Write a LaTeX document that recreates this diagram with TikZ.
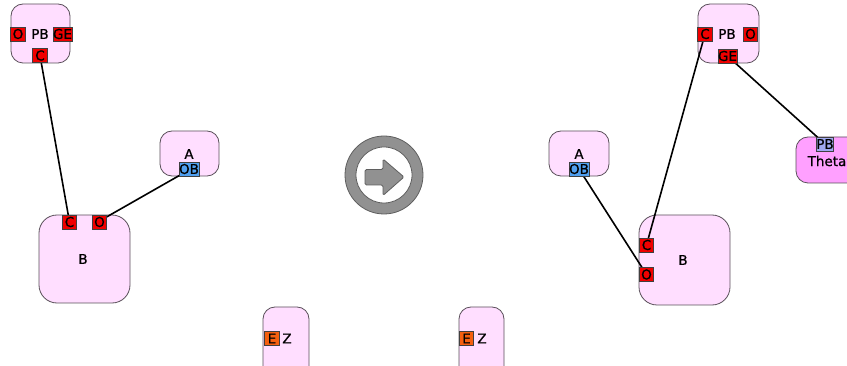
\documentclass[tikz,border=0pt]{standalone}
\usepackage{fontspec}
\setmainfont{DejaVu Sans}
\newfontfamily\diafont{DejaVu Sans}[FakeBold=0.8]
\definecolor{boxfill}{RGB}{255,222,255}
\definecolor{boxline}{RGB}{90,80,90}
\definecolor{thetafill}{RGB}{255,160,255}
\definecolor{portred}{RGB}{240,0,0}
\definecolor{portblue}{RGB}{80,160,240}
\definecolor{portorange}{RGB}{245,95,15}
\definecolor{portlav}{RGB}{160,168,240}
\definecolor{ringgray}{RGB}{145,145,145}
\definecolor{ringedge}{RGB}{95,95,95}
\begin{document}
\begin{tikzpicture}[x=1pt,y=-1pt,
  comp/.style={draw=boxline, line width=0.8pt, fill=boxfill, inner sep=0pt, rounded corners=12pt},
  port/.style={draw=black!75, line width=0.6pt, inner sep=0pt, minimum width=14.5pt, minimum height=14pt, font=\diafont\fontsize{13.5}{15}\selectfont},
  lbl/.style={inner sep=0pt, font=\diafont\fontsize{13.5}{15}\selectfont},
  wire/.style={draw=black, line width=1.6pt}]
\useasboundingbox (0,0) rectangle (847,366);
\fill[white] (0,0) rectangle (847,366);
% ---------- left side ----------
\node[comp, minimum width=59pt, minimum height=59pt] (pbL) at (40.5,33.5) {};
\node[comp, minimum width=59pt, minimum height=45pt] (aL) at (189.5,153.5) {};
\node[comp, minimum width=91pt, minimum height=88pt, rounded corners=18pt] (bL) at (84.5,259) {};
\node[comp, minimum width=46pt, minimum height=80pt] (zL) at (286,347) {};
\node[lbl] (pbLt) at (40,34) {PB};
\node[lbl] (aLt) at (189,154) {A};
\node[lbl] (bLt) at (83,259) {B};
\node[lbl] (zLt) at (287,338.5) {Z};
\coordinate (pbLCc) at (40,55.5);
\coordinate (bLCc) at (69.5,222);
\coordinate (bLOc) at (99.5,221);
\coordinate (aLOBc) at (189,170);
\draw[wire] (pbLCc) -- (bLCc);
\draw[wire] (bLOc) -- (aLOBc);
\node[port, fill=portred] (pbLO) at (18,34) {O};
\node[port, fill=portred] (pbLGE) at (62.5,34) {GE};
\node[port, fill=portred] (pbLC) at (40,55.5) {C};
\node[port, fill=portred] (bLC) at (69.5,222) {C};
\node[port, fill=portred] (bLO) at (99.5,222) {O};
\node[port, fill=portblue] (aLOB) at (189,169) {OB};
\node[port, fill=portorange] (zLE) at (272,338.5) {E};
% ---------- arrow icon ----------
\node[circle, draw=ringedge, line width=0.8pt, fill=ringgray, minimum size=78pt, inner sep=0pt] (ring) at (384,175) {};
\node[circle, draw=ringedge, line width=0.8pt, fill=white, minimum size=56pt, inner sep=0pt] (ringin) at (384,175) {};
\draw[draw=ringedge, fill=ringgray, line width=0.8pt, rounded corners=1.5pt]
  (365,169.5) -- (383,169.5) -- (383,159) -- (404,177) -- (383,195.5) -- (383,185) -- (365,185) -- cycle;
% ---------- right side ----------
\node[comp, minimum width=61pt, minimum height=59pt] (pbR) at (728.5,33.5) {};
\node[comp, minimum width=64pt, minimum height=46pt, fill=thetafill] (th) at (828,160) {};
\node[comp, minimum width=60pt, minimum height=45pt] (aR) at (579,153.5) {};
\node[comp, minimum width=91pt, minimum height=90pt, rounded corners=18pt] (bR) at (684.5,260) {};
\node[comp, minimum width=45pt, minimum height=80pt] (zR) at (481.5,347) {};
\node[lbl] (pbRt) at (727,34) {PB};
\node[lbl] (tht) at (827,161) {Theta};
\node[lbl] (aRt) at (579,154) {A};
\node[lbl] (bRt) at (683,260) {B};
\node[lbl] (zRt) at (482,338.5) {Z};
\coordinate (bRCc) at (646.5,245);
\coordinate (pbRCc) at (705,34);
\coordinate (pbRGEc) at (727.5,56);
\coordinate (thPBc) at (825,144);
\coordinate (aROBc) at (579,169);
\coordinate (bROc) at (646.5,274.5);
\draw[wire] (bRCc) -- (pbRCc);
\draw[wire] (pbRGEc) -- (thPBc);
\draw[wire] (aROBc) -- (bROc);
\node[port, fill=portred] (pbRC) at (705,34) {C};
\node[port, fill=portred] (pbRO) at (750.5,34) {O};
\node[port, fill=portred] (pbRGE) at (727.5,56) {GE};
\node[port, fill=portlav, minimum width=16pt] (thPB) at (825,144) {PB};
\node[port, fill=portblue] (aROB) at (579,169) {OB};
\node[port, fill=portred] (bRC) at (646.5,245) {C};
\node[port, fill=portred] (bRO) at (646.5,274.5) {O};
\node[port, fill=portorange] (zRE) at (466.5,338.5) {E};
\end{tikzpicture}
\end{document}
